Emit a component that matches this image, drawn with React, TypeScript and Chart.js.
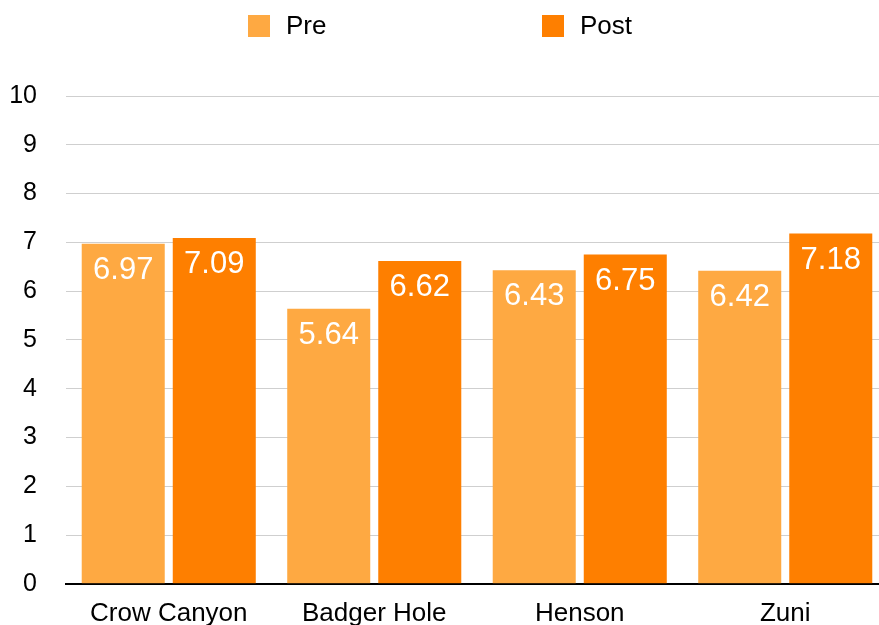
import React, { useEffect, useRef } from "react";
import { Chart, registerables } from "chart.js";

Chart.register(...registerables);

const categories = ["Crow Canyon", "Badger Hole", "Henson", "Zuni"];
const preValues = [6.97, 5.64, 6.43, 6.42];
const postValues = [7.09, 6.62, 6.75, 7.18];
const seriesNames = ["Pre", "Post"];
const seriesColors = ["#FEA942", "#FE7F00"];
const yMin = 0;
const yMax = 10;
const yStep = 1;

const FONT = "'Liberation Sans', Arial, Helvetica, sans-serif";

const valueLabelPlugin = {
  id: "valueLabels",
  afterDatasetsDraw(chart: any) {
    const ctx = chart.ctx;
    ctx.save();
    ctx.font = `31px ${FONT}`;
    ctx.fillStyle = "#ffffff";
    ctx.textAlign = "center";
    ctx.textBaseline = "alphabetic";
    chart.data.datasets.forEach((ds: any, di: number) => {
      const meta = chart.getDatasetMeta(di);
      meta.data.forEach((el: any, i: number) => {
        const v = ds.data[i];
        ctx.fillText(Number(v).toFixed(2), el.x, el.y + 35);
      });
    });
    ctx.restore();
  },
};

const legendPlugin = {
  id: "customLegend",
  afterDraw(chart: any) {
    const ctx = chart.ctx;
    const boxX = [248, 542];
    ctx.save();
    ctx.font = `26px ${FONT}`;
    ctx.textAlign = "left";
    ctx.textBaseline = "middle";
    chart.data.datasets.forEach((ds: any, i: number) => {
      ctx.fillStyle = ds.backgroundColor;
      ctx.fillRect(boxX[i], 15, 22, 22);
      ctx.fillStyle = "#000000";
      ctx.fillText(ds.label, boxX[i] + 38, 27);
    });
    ctx.restore();
  },
};

export default function App() {
  const ref = useRef<HTMLCanvasElement | null>(null);

  useEffect(() => {
    if (!ref.current) return;
    const chart = new Chart(ref.current, {
      type: "bar",
      data: {
        labels: categories,
        datasets: [
          { label: seriesNames[0], data: preValues, backgroundColor: seriesColors[0] },
          { label: seriesNames[1], data: postValues, backgroundColor: seriesColors[1] },
        ],
      },
      options: {
        responsive: false,
        animation: false,
        devicePixelRatio: 1,
        layout: { padding: { top: 96, left: 0, right: 0, bottom: 0 } },
        datasets: {
          bar: { categoryPercentage: 0.886, barPercentage: 0.912 },
        },
        plugins: {
          legend: { display: false },
          tooltip: { enabled: false },
        },
        scales: {
          x: {
            grid: { display: false, drawTicks: false },
            border: { display: true, color: "#000000", width: 2 },
            ticks: {
              color: "#000000",
              font: { family: FONT, size: 26 },
              padding: 14,
              maxRotation: 0,
              autoSkip: false,
            },
          },
          y: {
            min: yMin,
            max: yMax,
            grid: { color: "#cfcfcf", lineWidth: 1, drawTicks: false },
            border: { display: false },
            ticks: {
              stepSize: yStep,
              color: "#000000",
              font: { family: FONT, size: 25 },
              padding: 29,
            },
            afterFit(scale: any) {
              scale.width = 66;
            },
          },
        },
      },
      plugins: [valueLabelPlugin, legendPlugin],
    });
    return () => chart.destroy();
  }, []);

  return (
    <div
      style={{
        position: "absolute",
        left: 0,
        top: 0,
        width: 879,
        height: 625,
        overflow: "hidden",
        background: "#ffffff",
      }}
    >
      <canvas ref={ref} width={888} height={643} style={{ display: "block" }} />
    </div>
  );
}
